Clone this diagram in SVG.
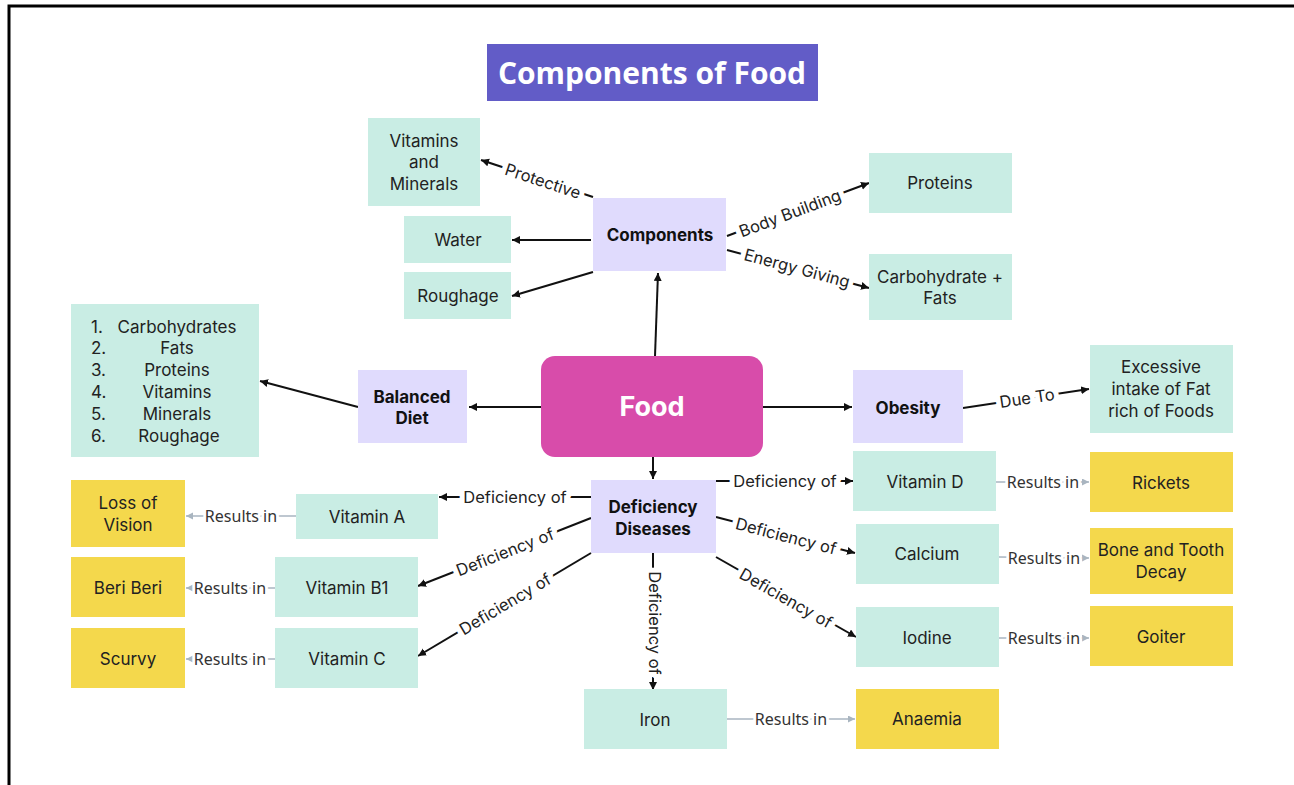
<svg xmlns="http://www.w3.org/2000/svg" width="1294" height="785" viewBox="0 0 1294 785">
  <defs>
    <marker id="arrow" markerUnits="userSpaceOnUse" markerWidth="9" markerHeight="9" refX="8" refY="4" orient="auto">
      <path d="M0,0 L8,4 L0,8 z" fill="#111"/>
    </marker>
    <marker id="arrow-grey" markerUnits="userSpaceOnUse" markerWidth="9" markerHeight="9" refX="7" refY="3.5" orient="auto">
      <path d="M0,0 L7,3.5 L0,7 z" fill="#a9b5c0"/>
    </marker>
    <style>
      .teal { fill: #c9ede4; }
      .lav { fill: #e0dbfd; }
      .yel { fill: #f4d84c; }
      .txt { font-family: Inter, "Liberation Sans", sans-serif; font-size: 17px; fill: #222; text-anchor: middle; dominant-baseline: central; }
      .bold { font-weight: 700; fill: #111; }
      .big { font-size: 27px; font-weight: 700; fill: #fff; }
      .link { stroke: #111; stroke-width: 2; fill: none; marker-end: url(#arrow); }
      .res { stroke: #a9b5c0; stroke-width: 1.5; fill: none; marker-end: url(#arrow-grey); }
      .lbl { font-family: Inter, "Liberation Sans", sans-serif; font-size: 16.5px; fill: #222; text-anchor: middle; dominant-baseline: central; paint-order: stroke; stroke: #fff; stroke-width: 10px; stroke-linejoin: round; }
      .rlbl { font-family: "Noto Sans", "Liberation Sans", sans-serif; font-size: 16px; fill: #333; text-anchor: middle; dominant-baseline: central; paint-order: stroke; stroke: #fff; stroke-width: 6px; stroke-linejoin: round; }
    </style>
  </defs>

  <!-- page -->
  <rect width="1294" height="785" fill="#fff"/>
  <rect x="9" y="6" width="1300" height="800" fill="none" stroke="#000" stroke-width="3"/>

  <!-- title -->
  <g id="title">
    <rect x="487" y="44" width="331" height="57" fill="#625cc7"/>
    <text x="652" y="72" font-family="'Open Sans', 'Liberation Sans', sans-serif" font-size="30" font-weight="700" fill="#fff" text-anchor="middle" dominant-baseline="central">Components of Food</text>
  </g>

  <!-- connectors -->
  <g id="connectors">
    <path class="link" d="M655,356 L658,273"/>
    <path class="link" d="M541,407 L469,407"/>
    <path class="link" d="M358,407 L260,381"/>
    <path class="link" d="M763,407 L852,407"/>
    <path class="link" d="M963,408 L1089,389"/>
    <path class="link" d="M653,457 L653,479"/>
    <path class="link" d="M593,197 L481,160"/>
    <path class="link" d="M591,240 L512,240"/>
    <path class="link" d="M593,272 L512,296"/>
    <path class="link" d="M727,236 L869,183"/>
    <path class="link" d="M727,250 L869,288"/>
    <path class="link" d="M591,497 L439,497"/>
    <path class="link" d="M591,518 L418,586"/>
    <path class="link" d="M591,553 L418,656"/>
    <path class="link" d="M653,553 L653,690"/>
    <path class="link" d="M716,481 L853,481"/>
    <path class="link" d="M716,517 L855,553"/>
    <path class="link" d="M716,557 L856,637"/>

    <path class="res" d="M296,516 L186,516"/>
    <path class="res" d="M275,588 L186,588"/>
    <path class="res" d="M275,659 L186,659"/>
    <path class="res" d="M996,482 L1089,482"/>
    <path class="res" d="M999,557 L1089,558"/>
    <path class="res" d="M999,638 L1089,638"/>
    <path class="res" d="M727,719 L855,719"/>

    <text class="lbl" transform="translate(543,181) rotate(18.3)">Protective</text>
    <text class="lbl" transform="translate(790,213) rotate(-20.5)">Body Building</text>
    <text class="lbl" transform="translate(797,268) rotate(15)">Energy Giving</text>
    <text class="lbl" transform="translate(1027,398) rotate(-8.6)">Due To</text>
    <text class="lbl" x="515" y="497">Deficiency of</text>
    <text class="lbl" transform="translate(505,552) rotate(-21.5)">Deficiency of</text>
    <text class="lbl" transform="translate(505,604) rotate(-30.8)">Deficiency of</text>
    <text class="lbl" transform="translate(655,623) rotate(90)">Deficiency of</text>
    <text class="lbl" x="785" y="481">Deficiency of</text>
    <text class="lbl" transform="translate(786,536) rotate(14.5)">Deficiency of</text>
    <text class="lbl" transform="translate(786,598) rotate(29.7)">Deficiency of</text>

    <text class="rlbl" x="241" y="516">Results in</text>
    <text class="rlbl" x="230" y="588">Results in</text>
    <text class="rlbl" x="230" y="659">Results in</text>
    <text class="rlbl" x="1043" y="482">Results in</text>
    <text class="rlbl" x="1044" y="558">Results in</text>
    <text class="rlbl" x="1044" y="638">Results in</text>
    <text class="rlbl" x="791" y="719">Results in</text>
  </g>

  <!-- nodes -->
  <g id="food">
    <rect x="541" y="356" width="222" height="101" rx="14" fill="#d84caa"/>
    <text class="txt big" x="652" y="406">Food</text>
  </g>
  <g id="components">
    <rect class="lav" x="593" y="198" width="133" height="73"/>
    <text class="txt bold" x="660" y="235">Components</text>
  </g>
  <g id="vitamins-minerals">
    <rect class="teal" x="368" y="118" width="112" height="88"/>
    <text class="txt" x="424" y="141">Vitamins</text>
    <text class="txt" x="424" y="162">and</text>
    <text class="txt" x="424" y="184">Minerals</text>
  </g>
  <g id="water">
    <rect class="teal" x="404" y="216" width="107" height="47"/>
    <text class="txt" x="458" y="240">Water</text>
  </g>
  <g id="roughage">
    <rect class="teal" x="404" y="272" width="107" height="47"/>
    <text class="txt" x="458" y="296">Roughage</text>
  </g>
  <g id="proteins">
    <rect class="teal" x="869" y="153" width="143" height="60"/>
    <text class="txt" x="940" y="183">Proteins</text>
  </g>
  <g id="carbohydrate-fats">
    <rect class="teal" x="869" y="254" width="143" height="66"/>
    <text class="txt" x="940" y="277">Carbohydrate +</text>
    <text class="txt" x="940" y="298">Fats</text>
  </g>
  <g id="balanced-diet">
    <rect class="lav" x="358" y="370" width="109" height="73"/>
    <text class="txt bold" x="412" y="397">Balanced</text>
    <text class="txt bold" x="412" y="418">Diet</text>
  </g>
  <g id="diet-list">
    <rect class="teal" x="71" y="304" width="188" height="153"/>
    <g class="txt" style="text-anchor:start">
      <text x="91" y="327" style="text-anchor:start">1.</text>
      <text x="91" y="348" style="text-anchor:start">2.</text>
      <text x="91" y="370" style="text-anchor:start">3.</text>
      <text x="91" y="392" style="text-anchor:start">4.</text>
      <text x="91" y="414" style="text-anchor:start">5.</text>
      <text x="91" y="436" style="text-anchor:start">6.</text>
    </g>
    <text class="txt" x="177" y="327">Carbohydrates</text>
    <text class="txt" x="177" y="348">Fats</text>
    <text class="txt" x="177" y="370">Proteins</text>
    <text class="txt" x="177" y="392">Vitamins</text>
    <text class="txt" x="177" y="414">Minerals</text>
    <text class="txt" x="179" y="436">Roughage</text>
  </g>
  <g id="obesity">
    <rect class="lav" x="853" y="370" width="110" height="73"/>
    <text class="txt bold" x="908" y="408">Obesity</text>
  </g>
  <g id="excessive-fat">
    <rect class="teal" x="1090" y="345" width="143" height="88"/>
    <text class="txt" x="1161" y="367">Excessive</text>
    <text class="txt" x="1161" y="389">intake of Fat</text>
    <text class="txt" x="1161" y="411">rich of Foods</text>
  </g>
  <g id="deficiency-diseases">
    <rect class="lav" x="591" y="480" width="125" height="73"/>
    <text class="txt bold" x="653" y="507">Deficiency</text>
    <text class="txt bold" x="653" y="529">Diseases</text>
  </g>
  <g id="vitamin-a">
    <rect class="teal" x="296" y="494" width="142" height="45"/>
    <text class="txt" x="367" y="517">Vitamin A</text>
  </g>
  <g id="loss-of-vision">
    <rect class="yel" x="71" y="480" width="114" height="67"/>
    <text class="txt" x="128" y="503">Loss of</text>
    <text class="txt" x="128" y="525">Vision</text>
  </g>
  <g id="vitamin-b1">
    <rect class="teal" x="275" y="557" width="143" height="60"/>
    <text class="txt" x="347" y="588">Vitamin B1</text>
  </g>
  <g id="beri-beri">
    <rect class="yel" x="71" y="557" width="114" height="60"/>
    <text class="txt" x="128" y="588">Beri Beri</text>
  </g>
  <g id="vitamin-c">
    <rect class="teal" x="275" y="628" width="143" height="60"/>
    <text class="txt" x="347" y="659">Vitamin C</text>
  </g>
  <g id="scurvy">
    <rect class="yel" x="71" y="628" width="114" height="60"/>
    <text class="txt" x="128" y="659">Scurvy</text>
  </g>
  <g id="vitamin-d">
    <rect class="teal" x="853" y="451" width="143" height="60"/>
    <text class="txt" x="925" y="482">Vitamin D</text>
  </g>
  <g id="rickets">
    <rect class="yel" x="1090" y="452" width="143" height="60"/>
    <text class="txt" x="1161" y="483">Rickets</text>
  </g>
  <g id="calcium">
    <rect class="teal" x="856" y="524" width="143" height="60"/>
    <text class="txt" x="927" y="554">Calcium</text>
  </g>
  <g id="bone-tooth-decay">
    <rect class="yel" x="1090" y="528" width="143" height="66"/>
    <text class="txt" x="1161" y="550">Bone and Tooth</text>
    <text class="txt" x="1161" y="572">Decay</text>
  </g>
  <g id="iodine">
    <rect class="teal" x="856" y="607" width="143" height="60"/>
    <text class="txt" x="927" y="638">Iodine</text>
  </g>
  <g id="goiter">
    <rect class="yel" x="1090" y="606" width="143" height="60"/>
    <text class="txt" x="1161" y="637">Goiter</text>
  </g>
  <g id="iron">
    <rect class="teal" x="584" y="689" width="143" height="60"/>
    <text class="txt" x="655" y="720">Iron</text>
  </g>
  <g id="anaemia">
    <rect class="yel" x="856" y="689" width="143" height="60"/>
    <text class="txt" x="927" y="719">Anaemia</text>
  </g>
</svg>
